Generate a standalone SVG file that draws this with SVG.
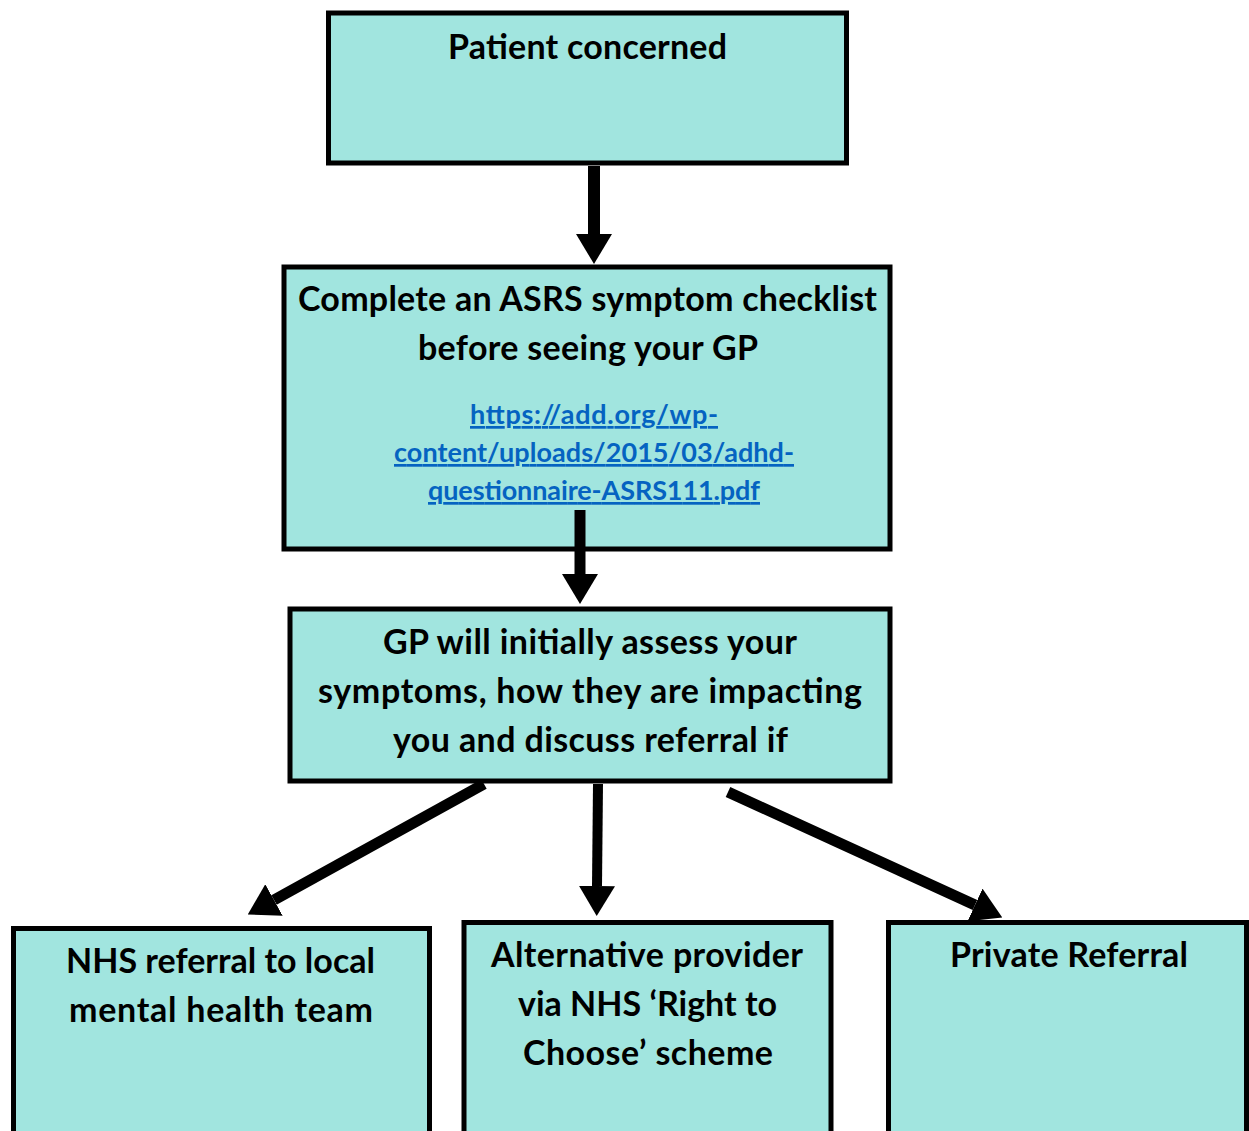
<svg xmlns="http://www.w3.org/2000/svg" width="1249" height="1131" viewBox="0 0 1249 1131">
<style>
.box{fill:#a1e5df;stroke:#000;stroke-width:5}
.t{font-family:Lato,"Open Sans","Liberation Sans",sans-serif;font-weight:700;font-size:34px;fill:#000;text-anchor:middle}
.u{font-family:Lato,"Open Sans","Liberation Sans",sans-serif;font-weight:700;font-size:27px;fill:#0563c1;text-anchor:middle;text-decoration:underline}
.c{stroke:#000;fill:none}
</style>
<defs>
<marker id="ah" viewBox="0 0 30 36" refX="0" refY="18" markerWidth="30" markerHeight="36" markerUnits="userSpaceOnUse" orient="auto">
<path d="M0,0 L30,18 L0,36 Z" fill="#000"/>
</marker>
</defs>
<g id="n1">
<rect class="box" x="328.5" y="13" width="518" height="150"/>
<text class="t" x="587.5" y="59" textLength="279">Patient concerned</text>
</g>
<g id="n2">
<rect class="box" x="284" y="267" width="606" height="282"/>
<text class="t" x="587.5" y="311" textLength="579">Complete an ASRS symptom checklist</text>
<text class="t" x="588" y="360" textLength="340">before seeing your GP</text>
<text class="u" x="594" y="424" textLength="248">https://add.org/wp-</text>
<text class="u" x="594" y="462" textLength="400">content/uploads/2015/03/adhd-</text>
<text class="u" x="594" y="500" textLength="332">questionnaire-ASRS111.pdf</text>
</g>
<g id="n3">
<rect class="box" x="290" y="609" width="600" height="172"/>
<text class="t" x="590" y="654" textLength="414">GP will initially assess your</text>
<text class="t" x="590" y="703" textLength="544">symptoms, how they are impacting</text>
<text class="t" x="590.5" y="752" textLength="395">you and discuss referral if</text>
</g>
<g id="n4">
<rect class="box" x="13.5" y="928.5" width="416" height="215"/>
<text class="t" x="220.5" y="973" textLength="309">NHS referral to local</text>
<text class="t" x="221" y="1022" textLength="304">mental health team</text>
</g>
<g id="n5">
<rect class="box" x="464" y="922.5" width="367" height="220"/>
<text class="t" x="647" y="967" textLength="312">Alternative provider</text>
<text class="t" x="647.5" y="1016" textLength="259">via NHS ‘Right to</text>
<text class="t" x="648" y="1065" textLength="250">Choose’ scheme</text>
</g>
<g id="n6">
<rect class="box" x="888.5" y="922.5" width="358" height="220"/>
<text class="t" x="1069" y="967" textLength="238">Private Referral</text>
</g>
<g id="connectors">
<line class="c" x1="594" y1="166" x2="594" y2="234" stroke-width="12" marker-end="url(#ah)"/>
<line class="c" x1="580" y1="510" x2="580" y2="574" stroke-width="11" marker-end="url(#ah)"/>
<line class="c" x1="484" y1="784" x2="274" y2="900" stroke-width="11" marker-end="url(#ah)"/>
<line class="c" x1="598" y1="784" x2="597" y2="886" stroke-width="10" marker-end="url(#ah)"/>
<line class="c" x1="728" y1="792" x2="975" y2="905" stroke-width="11" marker-end="url(#ah)"/>
</g>
</svg>
